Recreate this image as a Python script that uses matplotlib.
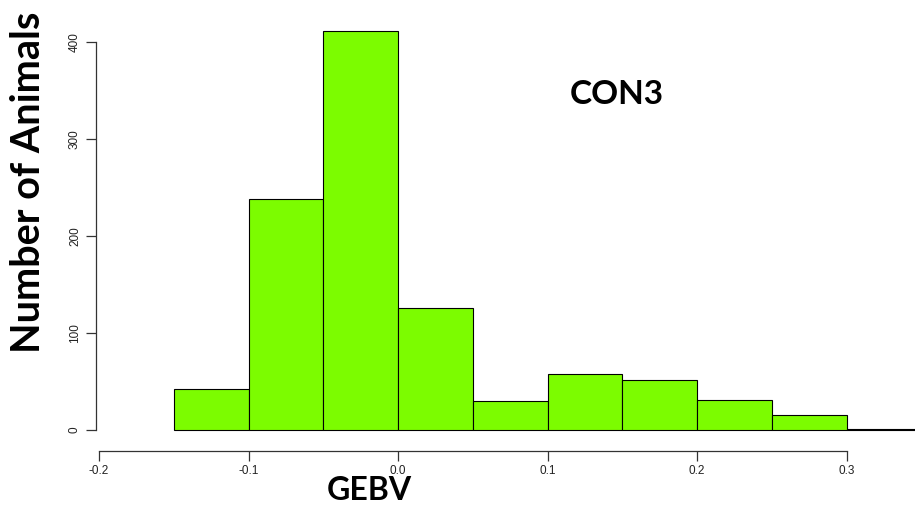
import matplotlib
matplotlib.use("Agg")
import matplotlib.pyplot as plt
import numpy as np

# Data
bin_edges = [-0.15, -0.10, -0.05, 0.00, 0.05, 0.10, 0.15, 0.20, 0.25, 0.30, 0.35]
counts = [42, 238, 411, 126, 30, 58, 52, 31, 15, 1]
x_ticks = [-0.2, -0.1, 0.0, 0.1, 0.2, 0.3]
x_tick_labels = ["-0.2", "-0.1", "0.0", "0.1", "0.2", "0.3"]
y_ticks = [0, 100, 200, 300, 400]

W, H = 915, 508
fig = plt.figure(figsize=(W / 100, H / 100), dpi=100)

# pixel geometry
px_x0, px_xr = 99, 915          # x=-0.2 at 99, right edge of figure
x0 = -0.2
xppu = 1495.0                     # pixels per data unit in x
xmax = x0 + (px_xr - px_x0) / xppu
px_y0 = 430                       # y=0
yppu = 0.97
ymax = 420
px_top = px_y0 - ymax * yppu

ax = fig.add_axes([px_x0 / W, (H - px_y0) / H, (px_xr - px_x0) / W, (px_y0 - px_top) / H])
ax.set_xlim(x0, xmax)
ax.set_ylim(0, ymax)

lefts = np.array(bin_edges[:-1])
widths = np.diff(bin_edges)
ax.bar(lefts, counts, width=widths, align="edge", color="#7CFC00",
       edgecolor="black", linewidth=0.8, clip_on=False)

for s in ["top", "right"]:
    ax.spines[s].set_visible(False)
ax.spines["left"].set_bounds(0, 400)
ax.spines["left"].set_position(("outward", 2))
ax.spines["bottom"].set_bounds(-0.2, 0.3)
ax.spines["bottom"].set_position(("outward", 15))
for s in ["left", "bottom"]:
    ax.spines[s].set_linewidth(0.9)
    ax.spines[s].set_color("#333333")

ax.set_xticks(x_ticks)
ax.set_xticklabels(x_tick_labels)
ax.set_yticks(y_ticks)
ax.set_yticklabels([str(v) for v in y_ticks], rotation=90, va="center")
ax.tick_params(axis="both", length=7, width=0.9, color="#333333",
               labelsize=8.5, labelcolor="#222222")
ax.tick_params(axis="x", pad=3)
ax.tick_params(axis="y", pad=4)
for lab in ax.get_xticklabels() + ax.get_yticklabels():
    lab.set_family("Liberation Sans")

fig.text(29 / W, 1 - 182 / H, "Number of Animals", rotation=90, ha="center", va="center",
         fontsize=28.5, fontweight="bold", family="Lato")
fig.text(369 / W, 1 - 491 / H, "GEBV", ha="center", va="center",
         fontsize=23, fontweight="bold", family="Lato")
fig.text(617 / W, 1 - 95 / H, "CON3", ha="center", va="center",
         fontsize=24, fontweight="bold", family="Lato")

fig.savefig("out.png", dpi=100)
